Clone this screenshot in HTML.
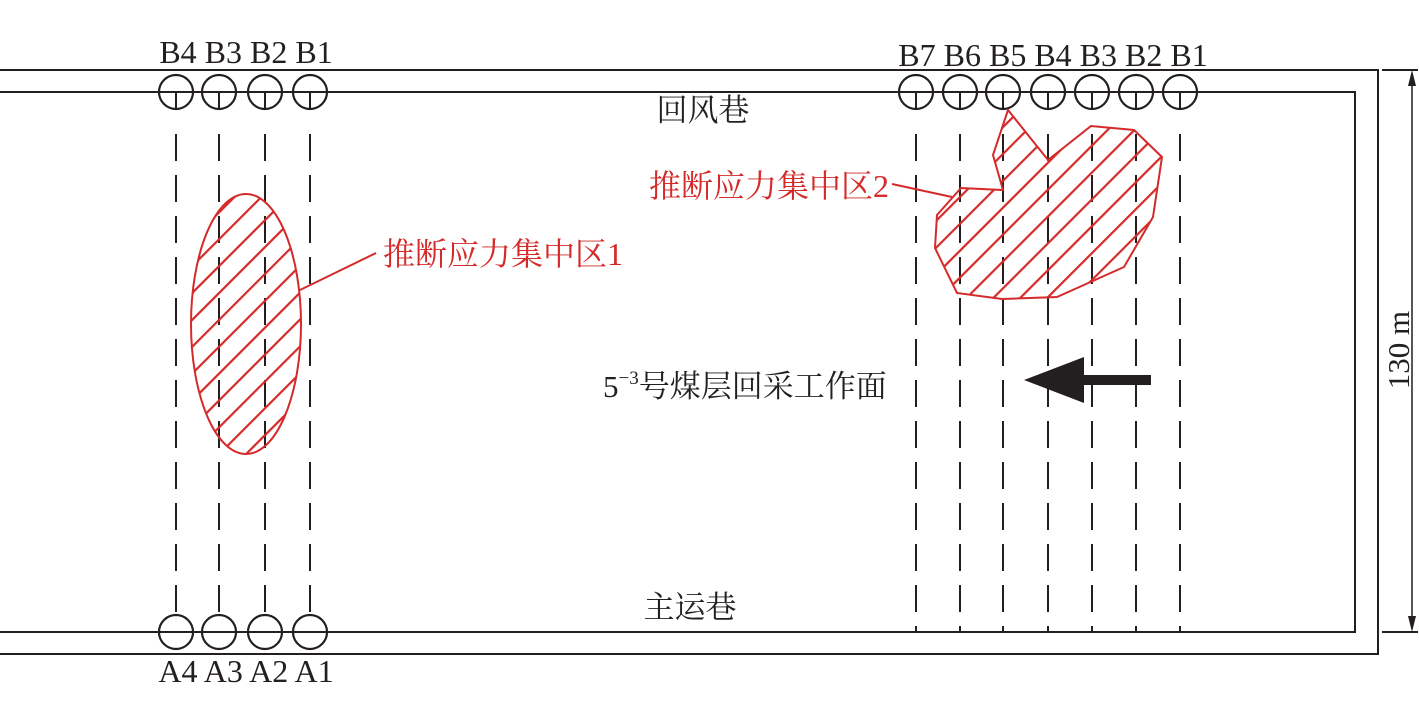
<!DOCTYPE html>
<html><head><meta charset="utf-8"><style>
html,body{margin:0;padding:0;background:#fff;}
svg{display:block;}
text{font-family:"Liberation Serif","Noto Serif CJK SC",serif;}
</style></head><body>
<svg width="1419" height="717" viewBox="0 0 1419 717" xmlns="http://www.w3.org/2000/svg">
<defs>
<pattern id="h" patternUnits="userSpaceOnUse" width="19" height="19" patternTransform="rotate(45)">
<line x1="1" y1="0" x2="1" y2="19" stroke="#d42a2a" stroke-width="2.4"/>
</pattern>
</defs>
<g stroke="#231f20" stroke-width="2" fill="none">
<polyline points="0,70 1378,70 1378,654 0,654"/>
<polyline points="0,92 1355,92 1355,632 0,632"/>
<line x1="1382" y1="70" x2="1418" y2="70"/>
<line x1="1382" y1="632" x2="1418" y2="632"/>
<line x1="1412" y1="74" x2="1412" y2="628" stroke-width="1.5"/>
</g>
<polygon points="1412,70 1408,86 1416,86" fill="#231f20"/>
<polygon points="1412,632 1408,616 1416,616" fill="#231f20"/>
<g stroke="#231f20" stroke-width="2.2" fill="none">
<circle cx="176" cy="92" r="17"/><circle cx="219" cy="92" r="17"/><circle cx="265" cy="92" r="17"/><circle cx="310" cy="92" r="17"/>
<circle cx="176" cy="632" r="17"/><circle cx="219" cy="632" r="17"/><circle cx="265" cy="632" r="17"/><circle cx="310" cy="632" r="17"/>
<circle cx="916" cy="92" r="17"/><circle cx="960" cy="92" r="17"/><circle cx="1003" cy="92" r="17"/><circle cx="1048" cy="92" r="17"/><circle cx="1092" cy="92" r="17"/><circle cx="1136" cy="92" r="17"/><circle cx="1180" cy="92" r="17"/>
</g>
<g stroke="#231f20" stroke-width="2">
<line x1="176" y1="92" x2="176" y2="110"/><line x1="219" y1="92" x2="219" y2="110"/><line x1="265" y1="92" x2="265" y2="110"/><line x1="310" y1="92" x2="310" y2="110"/>
<line x1="916" y1="92" x2="916" y2="110"/><line x1="960" y1="92" x2="960" y2="110"/><line x1="1003" y1="92" x2="1003" y2="110"/><line x1="1048" y1="92" x2="1048" y2="110"/><line x1="1092" y1="92" x2="1092" y2="110"/><line x1="1136" y1="92" x2="1136" y2="110"/><line x1="1180" y1="92" x2="1180" y2="110"/>
<g stroke-dasharray="27 14">
<line x1="176" y1="134" x2="176" y2="615"/><line x1="219" y1="134" x2="219" y2="615"/><line x1="265" y1="134" x2="265" y2="615"/><line x1="310" y1="134" x2="310" y2="615"/>
<line x1="916" y1="134" x2="916" y2="632"/><line x1="960" y1="134" x2="960" y2="632"/><line x1="1003" y1="134" x2="1003" y2="632"/><line x1="1048" y1="134" x2="1048" y2="632"/><line x1="1092" y1="134" x2="1092" y2="632"/><line x1="1136" y1="134" x2="1136" y2="632"/><line x1="1180" y1="134" x2="1180" y2="632"/>
</g>
</g>
<ellipse cx="246" cy="324" rx="55" ry="130" fill="url(#h)" stroke="#d42a2a" stroke-width="2"/>
<line x1="300" y1="290" x2="376" y2="253" stroke="#d42a2a" stroke-width="2"/>
<polygon points="1008,110 1048,160 1091,126 1134,130 1162,157 1153,217 1124,267 1057,297 1002,299 957,293 935,248 937,215 961,188 1003,190 993,155" fill="url(#h)" stroke="#d42a2a" stroke-width="2"/>
<line x1="892" y1="184" x2="952" y2="197" stroke="#d42a2a" stroke-width="2"/>
<rect x="1080" y="375" width="71" height="10" fill="#231f20"/>
<polygon points="1024,380 1084,357 1084,403" fill="#231f20"/>
<g fill="#231f20">
<text x="246" y="63" text-anchor="middle" font-size="32">B4 B3 B2 B1</text>
<text x="1053" y="66" text-anchor="middle" font-size="32">B7 B6 B5 B4 B3 B2 B1</text>
<text x="246" y="682" text-anchor="middle" font-size="32">A4 A3 A2 A1</text>
<text x="703" y="121" text-anchor="middle" font-size="31">回风巷</text>
<text x="690" y="618" text-anchor="middle" font-size="31">主运巷</text>
<text x="603" y="397" font-size="31">5<tspan font-size="19" dy="-13">−3</tspan><tspan dy="13">号煤层回采工作面</tspan></text>
<text transform="translate(1409,350) rotate(-90)" text-anchor="middle" font-size="31">130 m</text>
</g>
<g fill="#d42a2a" font-size="32">
<text x="383" y="265">推断应力集中区1</text>
<text x="889" y="197" text-anchor="end">推断应力集中区2</text>
</g>
</svg>
</body></html>
